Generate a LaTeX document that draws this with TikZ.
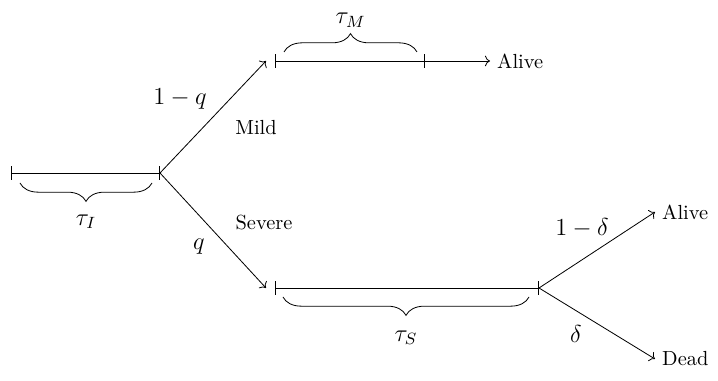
\documentclass[tikz,border=0pt]{standalone}
\usetikzlibrary{arrows.meta,decorations.pathreplacing}
\begin{document}
\begin{tikzpicture}[x=0.49pt,y=-0.49pt,
  seg/.style={{Bar[width=6.5pt]}-{Bar[width=6.5pt]}},
  arr/.style={->},
  brc/.style={decorate,decoration={brace,amplitude=9pt}},
  mlab/.style={font=\large},
  tlab/.style={font=\normalsize}]
\useasboundingbox (0,0) rectangle (718,381);
\coordinate (i0) at (11,173);
\coordinate (i1) at (160,173);
\coordinate (mtip) at (266,61);
\coordinate (m0) at (275,61);
\coordinate (m1) at (425,61);
\coordinate (stip) at (266,288);
\coordinate (s0) at (275,288);
\coordinate (s1) at (539,288);
\node[tlab,anchor=west] (alive1) at (490,61) {Alive};
\node[tlab,anchor=west] (alive2) at (655,212) {Alive};
\node[tlab,anchor=west] (dead) at (655,359) {Dead};
\draw[seg] (i0) -- (i1);
\draw[arr] (i1) -- (mtip);
\draw[arr] (i1) -- (stip);
\draw[seg] (m0) -- (m1);
\draw[arr] (m1) -- (alive1.west);
\draw[seg] (s0) -- (s1);
\draw[arr] (s1) -- (alive2.west);
\draw[arr] (s1) -- (dead.west);
\draw[brc] (152,183) -- node[mlab,below=12pt] (ti) {$\tau_I$} (20,183);
\draw[brc] (284,52) -- node[mlab,above=10pt,inner sep=2pt] (tm) {$\tau_M$} (417,52);
\draw[brc] (529,297) -- node[mlab,below=13pt] (ts) {$\tau_S$} (283,297);
\node[mlab] (lq1) at (180,99) {$1-q$};
\node[mlab] (lq) at (199,247) {$q$};
\node[tlab] (mild) at (256,128) {Mild};
\node[tlab] (severe) at (264,223) {Severe};
\node[mlab] (ld1) at (582,228) {$1-\delta$};
\node[mlab] (ld) at (576,334) {$\delta$};
\end{tikzpicture}
\end{document}
